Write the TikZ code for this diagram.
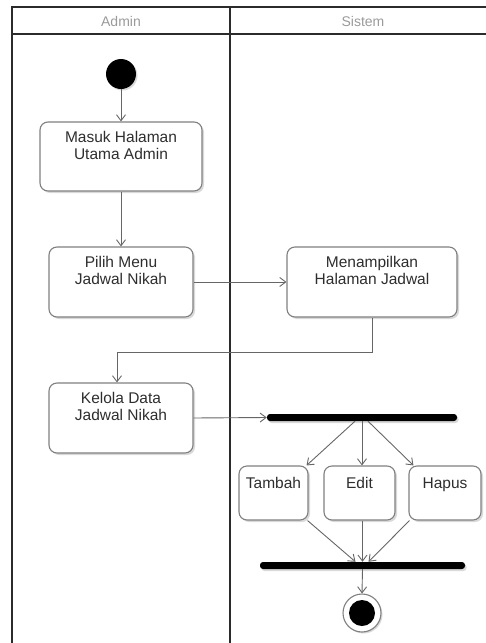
\documentclass[tikz,border=0pt]{standalone}
\usepackage{fontspec}
\setmainfont{Liberation Sans}
\usetikzlibrary{arrows.meta,shadows}
\definecolor{laneline}{HTML}{2B2B2B}
\definecolor{edgeline}{HTML}{666666}
\definecolor{boxline}{HTML}{808080}
\definecolor{txt}{HTML}{2E2E2E}
\definecolor{headtxt}{HTML}{9A9A9A}

\begin{document}
\begin{tikzpicture}[x=1pt,y=-1pt,
  laneframe/.style={draw=laneline,line width=1.6pt},
  headlabel/.style={font=\fontsize{14}{16}\selectfont,text=headtxt},
  act/.style={draw=boxline,line width=1.1pt,rounded corners=8pt,fill=white,inner sep=0pt,
    drop shadow={shadow xshift=2pt,shadow yshift=-2pt,opacity=0.15,fill=black}},
  acttext/.style={anchor=north,align=center,inner sep=0pt,
    font=\fontsize{15.5}{17}\selectfont,text=txt,yshift=-10pt},
  flow/.style={draw=edgeline,line width=0.9pt,-{Straight Barb[length=6pt,width=9pt]}},
  syncbar/.style={fill=black,rounded corners=3pt,inner sep=0pt,minimum height=7pt,
    drop shadow={shadow xshift=1.5pt,shadow yshift=-2pt,opacity=0.15,fill=black}},
  initial/.style={circle,fill=black,inner sep=0pt,minimum size=30pt,
    drop shadow={shadow xshift=1.5pt,shadow yshift=-1.5pt,opacity=0.15,fill=black}},
  final/.style={circle,draw=boxline,line width=1.1pt,fill=white,inner sep=0pt,minimum size=38pt,
    drop shadow={shadow xshift=1.5pt,shadow yshift=-1.5pt,opacity=0.15,fill=black}},
  finalcore/.style={circle,fill=black,inner sep=0pt,minimum size=26pt}
]
\useasboundingbox (0,0) rectangle (486,643);

% swimlane frame
\draw[laneframe] (12,643) -- (12,7) -- (486,7);
\draw[laneframe] (12,34) -- (486,34);
\draw[laneframe] (230,7) -- (230,643);
\node[headlabel] (hadmin) at (121,21) {Admin};
\node[headlabel] (hsistem) at (363,21) {Sistem};

% actions
\node[initial] (start) at (121,74) {};
\node[act,minimum width=162pt,minimum height=69pt,
  label={[acttext]north:{Masuk Halaman\\Utama Admin}}] (masuk) at (121,156.5) {};
\node[act,minimum width=144pt,minimum height=70pt,
  label={[acttext]north:{Pilih Menu\\Jadwal Nikah}}] (pilih) at (121,282) {};
\node[act,minimum width=170pt,minimum height=70pt,
  label={[acttext]north:{Menampilkan\\Halaman Jadwal}}] (tampil) at (372,282) {};
\node[act,minimum width=144pt,minimum height=70pt,
  label={[acttext]north:{Kelola Data\\Jadwal Nikah}}] (kelola) at (121,418) {};

\node[syncbar,minimum width=190pt] (fork) at (362,417.5) {};

\node[act,minimum width=69pt,minimum height=54pt,
  label={[acttext,yshift=-2pt]north:{Tambah}}] (tambah) at (273.5,493) {};
\node[act,minimum width=71pt,minimum height=54pt,
  label={[acttext,yshift=-2pt]north:{Edit}}] (edit) at (359.5,493) {};
\node[act,minimum width=72pt,minimum height=54pt,
  label={[acttext,yshift=-2pt]north:{Hapus}}] (hapus) at (445,493) {};

\node[syncbar,minimum width=205pt] (join) at (362.5,565.5) {};

\node[final] (end) at (362,613) {};
\node[finalcore] (endcore) at (end) {};

% control flow
\draw[flow] (start) -- (masuk);
\draw[flow] (masuk) -- (pilih);
\draw[flow] (pilih.east) -- (tampil.west);
\coordinate (turn) at (372,352);
\draw[flow] (tampil.south) -- (turn) -| ([xshift=-4pt]kelola.north);
\draw[flow] (kelola.east) -- (fork.west);

\draw[flow] ([xshift=-7pt]fork.south) -- ([xshift=-2pt]tambah.north east);
\draw[flow] (fork.south) -- (fork.south |- edit.north);
\draw[flow] ([xshift=6pt]fork.south) -- ([xshift=5pt]hapus.north west);

\draw[flow] ([xshift=-1pt]tambah.south east) -- ([xshift=-7pt]join.north);
\draw[flow] (edit.south -| join.north) -- (join.north);
\draw[flow] ([xshift=1pt]hapus.south west) -- ([xshift=6pt]join.north);

\draw[flow] (join.south) -- (end.north);
\end{tikzpicture}
\end{document}
